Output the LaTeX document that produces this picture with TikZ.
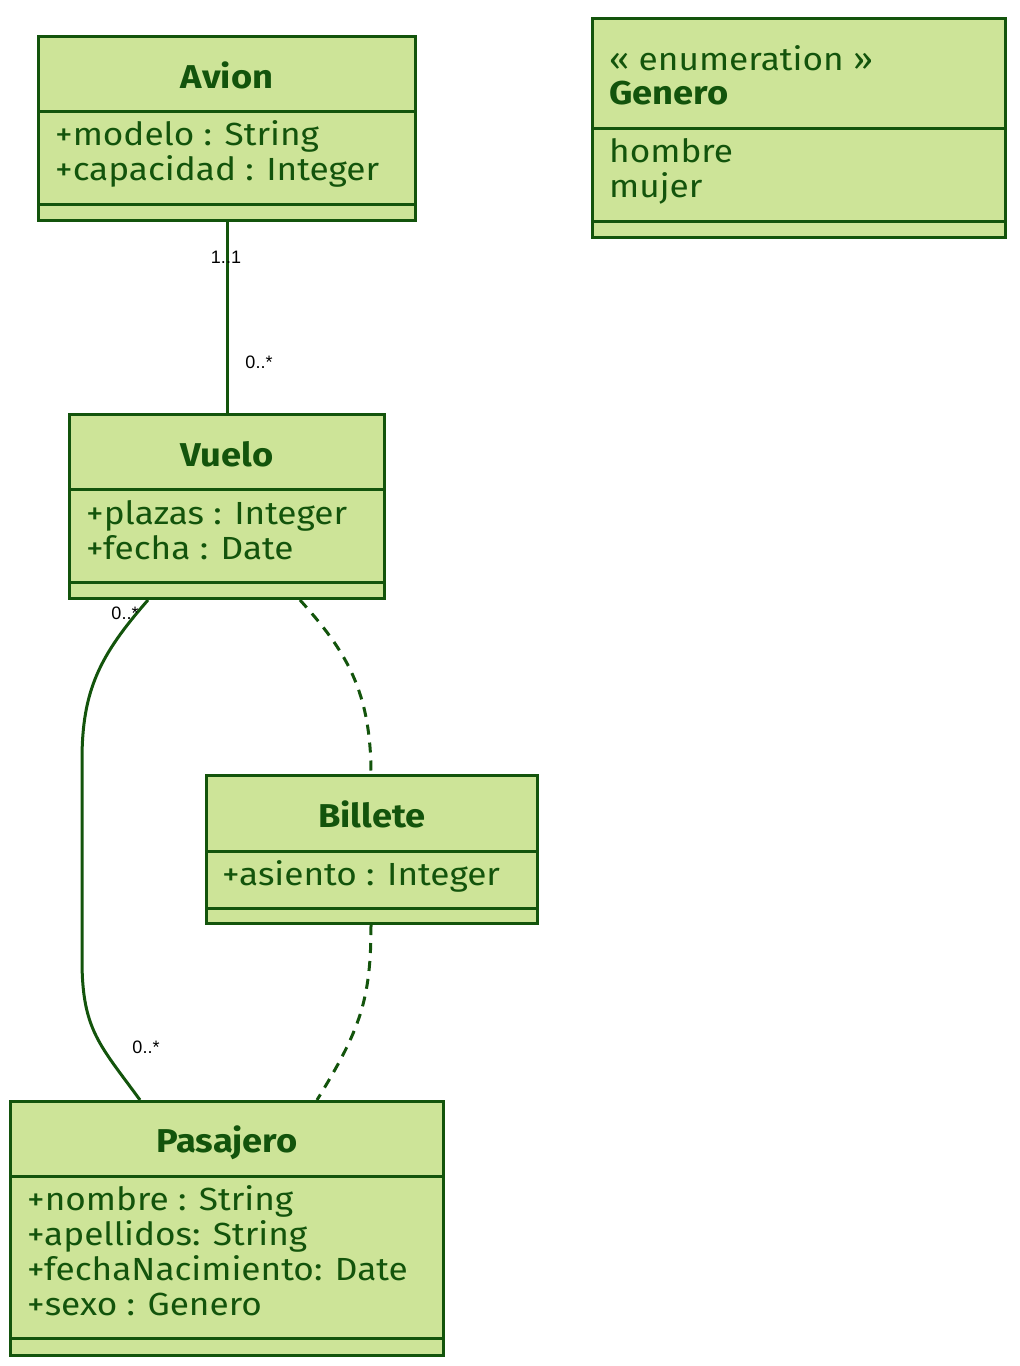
\documentclass[tikz,border=0pt]{standalone}
\usepackage{fontspec}
\setmainfont{Fira Sans}[FakeStretch=1.1]
\newfontfamily\multfont{Liberation Sans}
\usetikzlibrary{calc}

\definecolor{umlfill}{HTML}{CDE498}
\definecolor{umlline}{HTML}{13540C}

\tikzset{
  classbox/.style={draw=umlline, fill=umlfill, line width=3pt, anchor=north west, inner sep=0pt},
  divider/.style={draw=umlline, line width=3pt},
  classname/.style={text=umlline, anchor=base, font=\fontsize{33}{35}\selectfont\bfseries},
  member/.style={text=umlline, anchor=base west, inner sep=0pt, font=\fontsize{32}{35}\selectfont},
  assoc/.style={draw=umlline, line width=3pt},
  dep/.style={draw=umlline, line width=3pt, dash pattern=on 10pt off 8pt},
  mult/.style={font=\multfont\fontsize{18}{20}\selectfont, text=black, inner sep=0pt}
}

\begin{document}
\begin{tikzpicture}[x=1pt,y=-1pt]
      \useasboundingbox (0,0) rectangle (1020,1366);

      % classes
      \node [classbox, minimum width=377pt, minimum height=184pt] (avion) at (37,35) {};
      \node [classbox, minimum width=413pt, minimum height=219pt] (genero) at (591,17) {};
      \node [classbox, minimum width=315pt, minimum height=184pt] (vuelo) at (68,413) {};
      \node [classbox, minimum width=331pt, minimum height=148pt] (billete) at (205,774) {};
      \node [classbox, minimum width=433pt, minimum height=254pt] (pasajero) at (9,1100) {};

      % compartments
      \foreach \cls/\ya/\yb in {avion/111/204, genero/128/221, vuelo/489/582, billete/851/908, pasajero/1176/1338}
      {
        \draw [divider] (\cls.west |- 0,\ya) -- (\cls.east |- 0,\ya);
        \draw [divider] (\cls.west |- 0,\yb) -- (\cls.east |- 0,\yb);
      }

      % Avion
      \node [classname] (avionname) at (avion.north |- 0,88) {Avion};
      \node [member] (avionattr1) at (55,145) {+modelo : String};
      \node [member] (avionattr2) at (55,180) {+capacidad : Integer};

      % Genero
      \node [member] (generostereo) at (609,70) {« enumeration »};
      \node [member, font=\fontsize{33}{35}\selectfont\bfseries] (generoname) at (609,104) {Genero};
      \node [member] (generoval1) at (609,162) {hombre};
      \node [member] (generoval2) at (609,197) {mujer};

      % Vuelo
      \node [classname] (vueloname) at (vuelo.north |- 0,466) {Vuelo};
      \node [member] (vueloattr1) at (86,524) {+plazas : Integer};
      \node [member] (vueloattr2) at (86,559) {+fecha : Date};

      % Billete
      \node [classname] (billetename) at (billete.north |- 0,827) {Billete};
      \node [member] (billeteattr1) at (222,885) {+asiento : Integer};

      % Pasajero
      \node [classname] (pasajeroname) at (pasajero.north |- 0,1152) {Pasajero};
      \node [member] (pasajeroattr1) at (27,1210) {+nombre : String};
      \node [member] (pasajeroattr2) at (27,1245) {+apellidos: String};
      \node [member] (pasajeroattr3) at (27,1280) {+fechaNacimiento: Date};
      \node [member] (pasajeroattr4) at (27,1315) {+sexo : Genero};

      % associations
      \draw [assoc] (avion.south) -- (vuelo.north);
      \node [mult] (m11) at (226,257) {1..1};
      \node [mult] (m0a) at (259,362) {0..*};

      \draw [assoc] (vuelo.south -| 148,0) .. controls (100,655) and (82,690) .. (82,760)
      -- (82,960) .. controls (82,1030) and (100,1045) .. (pasajero.north -| 140,0);
      \node [mult] (m0b) at (125,613) {0..*};
      \node [mult] (m0c) at (146,1047) {0..*};

      % association class
      \draw [dep] (vuelo.south -| 300,0) .. controls (345,650) and (371,690) .. (billete.north -| 371,0);
      \draw [dep] (billete.south -| 371,0) .. controls (371,1000) and (360,1030) .. (pasajero.north -| 317,0);
    \end{tikzpicture}
\end{document}
